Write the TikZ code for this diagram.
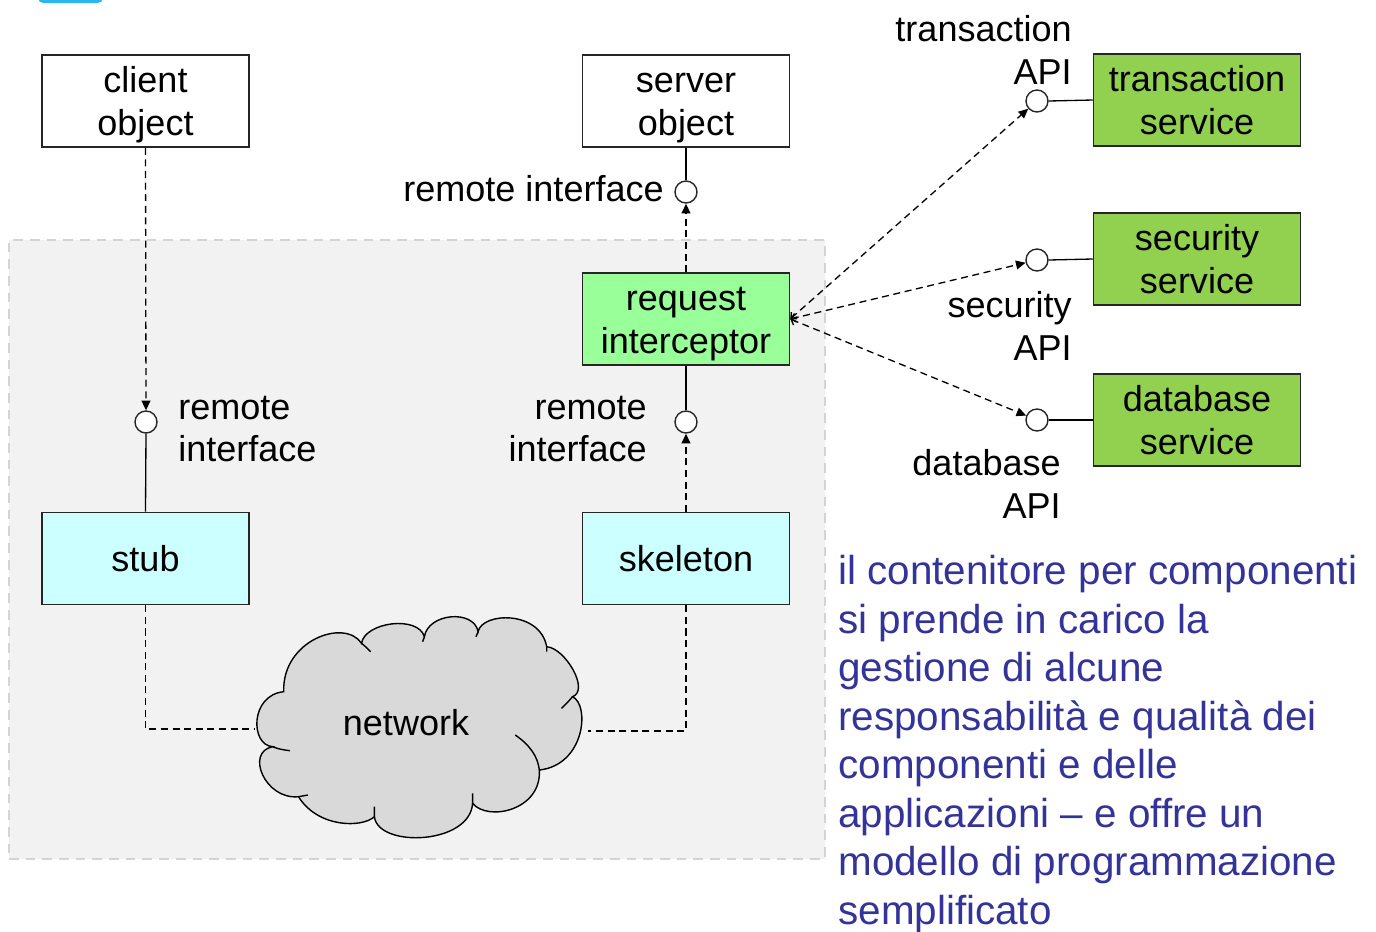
\documentclass[tikz,border=0pt]{standalone}
\usepackage{fontspec}
\setmainfont{Liberation Sans}
\usetikzlibrary{arrows.meta}

\definecolor{boxline}{HTML}{262626}
\definecolor{contfill}{HTML}{F2F2F2}
\definecolor{contline}{HTML}{D4D4D4}
\definecolor{cloudfill}{HTML}{D9D9D9}
\definecolor{stubfill}{HTML}{CCFFFF}
\definecolor{icfill}{HTML}{99FF99}
\definecolor{svcfill}{HTML}{92D050}
\definecolor{notecol}{HTML}{333399}
\definecolor{tabcol}{HTML}{29B6F2}

\tikzset{
  lbl/.style={font=\fontsize{20.5}{24.4}\selectfont, inner sep=0pt},
  objbox/.style={lbl, draw=boxline, line width=0.9pt, minimum width=4.14cm,
    minimum height=1.84cm, align=center, text depth=0pt},
  twoline/.style={text height=39.4pt},
  iface/.style={circle, draw=boxline, fill=white, line width=0.8pt,
    minimum size=0.44cm, inner sep=0pt},
  conn/.style={draw=black, line width=0.75pt},
  dconn/.style={conn, dash pattern=on 4pt off 2.6pt},
  tip/.style={-{Triangle[length=5.5pt,width=5pt]}},
  bothtip/.style={{Straight Barb[length=2.5pt,width=5pt]}-{Triangle[length=5.5pt,width=5pt]}},
}

\begin{document}
\begin{tikzpicture}[x=0.02cm, y=-0.02cm]
\useasboundingbox (0,0) rectangle (1376,931);
\fill[white] (0,0) rectangle (1376,931);

% tab cut off at the top edge
\fill[tabcol, rounded corners=3pt] (38,-12) rectangle (103,3);

% component container
\node[draw=contline, fill=contfill, line width=1.1pt, dash pattern=on 5.5pt off 4pt,
      minimum width=16.32cm, minimum height=12.38cm, inner sep=0pt, anchor=north west]
      (container) at (8,239) {};

% network cloud
\filldraw[fill=cloudfill, draw=black, line width=0.8pt]
  (283.7,691.7) .. controls (282,640) and (345,618) .. (361.5,643.3)
  .. controls (365,622) and (418,615) .. (424.4,636.7)
  .. controls (428,613) and (474,609) .. (478.1,631.7)
  .. controls (482,612) and (540,610) .. (546.7,646.7)
  .. controls (565,648) and (590,690) .. (572.6,696.7)
  .. controls (590,705) and (585,765) .. (539.3,770)
  .. controls (542,810) and (488,822) .. (472.6,803.3)
  .. controls (470,845) and (378,848) .. (374.4,816.7)
  .. controls (362,828) and (318,828) .. (298.5,796.7)
  .. controls (265,800) and (245,752) .. (272.6,746.7)
  .. controls (250,745) and (250,695) .. (283.7,691.7) -- cycle;
\draw[black, line width=0.8pt]
  (361.5,643.3) .. controls (365,646) and (368,649) .. (370.7,651.7)
  (424.4,636.7) -- (422.6,641.7)
  (478.1,631.7) -- (476,636.7)
  (546.7,646.7) -- (546.7,651.7)
  (572.6,696.7) .. controls (568,702) and (565,705) .. (561.5,708.3)
  (515.2,735) .. controls (530,745) and (538,757) .. (539.3,770)
  (472.6,803.3) -- (472.6,793.3)
  (374.4,816.7) -- (374.4,806.7)
  (298.5,796.7) -- (307.8,795)
  (272.6,746.7) .. controls (278,749) and (284,750) .. (290,750.7);
\node[lbl] (network) at (406,723) {network};
\coordinate (cloudW) at (254,729);
\coordinate (cloudE) at (588,731);

% objects
\node[objbox, twoline, fill=white] (client) at (145.5,101) {client\\object};
\node[objbox, twoline, fill=white] (server) at (686,101) {server\\object};
\node[objbox, twoline, fill=icfill] (ri) at (686,319) {request\\interceptor};
\node[objbox, fill=stubfill] (stub) at (145.5,558.5) {stub};
\node[objbox, fill=stubfill] (skel) at (686,558.5) {skeleton};

% services
\node[objbox, twoline, fill=svcfill] (tsvc) at (1197,100) {transaction\\service};
\node[objbox, twoline, fill=svcfill] (ssvc) at (1197,259) {security\\service};
\node[objbox, twoline, fill=svcfill] (dsvc) at (1197,420) {database\\service};

% interfaces
\node[iface] (ciC) at (146,422) {};
\node[iface] (ciS) at (686,192) {};
\node[iface] (ciK) at (686,422) {};
\node[iface] (ciT) at (1037,101) {};
\node[iface] (ciX) at (1037,260) {};
\node[iface] (ciD) at (1037,420) {};

% interface labels
\node[lbl, anchor=east] (lS) at (664,189) {remote interface};
\node[lbl, anchor=west, align=left] (lC) at (178,429) {remote\\interface};
\node[lbl, anchor=east, align=right] (lK) at (647,429) {remote\\interface};
\node[lbl, anchor=east, align=right] (lT) at (1072,50) {transaction\\API};
\node[lbl, anchor=east, align=right] (lX) at (1072,326) {security\\API};
\node[lbl, anchor=east, align=right] (lD) at (1061,484) {database\\API};

% connectors
\draw[dconn, tip] (client.south) -- (ciC.north);
\draw[conn] (ciC.south) -- (stub.north);
\draw[conn] (server.south) -- (ciS.north);
\draw[dconn, tip] (ri.north) -- (ciS.south);
\draw[conn] (ri.south) -- (ciK.north);
\draw[dconn, tip] (skel.north) -- (ciK.south);
\draw[dconn] (stub.south) |- (cloudW);
\draw[dconn] (skel.south) |- (cloudE);

\draw[dconn, bothtip] (ri.east) -- (ciT);
\draw[dconn, bothtip] (ri.east) -- (ciX);
\draw[dconn, bothtip] (ri.east) -- (ciD);
\draw[conn] (ciT.east) -- (tsvc.west);
\draw[conn] (ciX.east) -- (ssvc.west);
\draw[conn] (ciD.east) -- (dsvc.west);

% note (base anchor sits on the last line)
\node[anchor=base west, inner sep=0pt, align=left, text=notecol,
      font=\fontsize{23}{27.6}\selectfont] (note) at (838,924)
  {il contenitore per componenti\\
   si prende in carico la\\
   gestione di alcune\\
   responsabilità e qualità dei\\
   componenti e delle\\
   applicazioni – e offre un\\
   modello di programmazione\\
   semplificato};
\end{tikzpicture}
\end{document}
